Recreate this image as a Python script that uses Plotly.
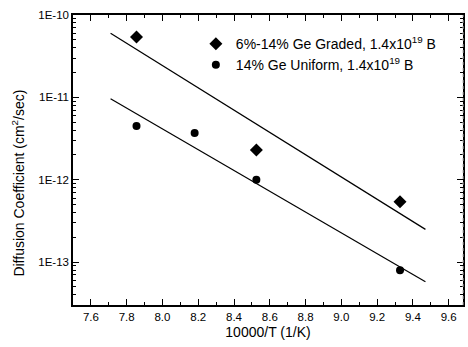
import numpy as np
import plotly.graph_objects as go

# Data
graded_x = [7.855, 8.525, 9.328]
graded_y = [5.4e-11, 2.3e-12, 5.4e-13]
uniform_x = [7.855, 8.18, 8.525, 9.328]
uniform_y = [4.5e-12, 3.7e-12, 1.0e-12, 8.0e-14]
fit_x = [7.71, 9.47]
graded_fit_y = [6.0e-11, 2.5e-13]
uniform_fit_y = [9.6e-12, 5.8e-14]

ytickvals = [1e-10, 1e-11, 1e-12, 1e-13]
yticktext = ["1E-10", "1E-11", "1E-12", "1E-13"]
xtickvals = [7.6, 7.8, 8.0, 8.2, 8.4, 8.6, 8.8, 9.0, 9.2, 9.4, 9.6]
xticktext = ["7.6", "7.8", "8.0", "8.2", "8.4", "8.6", "8.8", "9.0", "9.2", "9.4", "9.6"]

yminor = [m * 10.0 ** e for e in range(-14, -10) for m in range(2, 10)]
xminor = [round(7.5 + 0.2 * i, 2) for i in range(12)]

font = "Liberation Sans, Arial, sans-serif"

fig = go.Figure()
fig.add_trace(go.Scatter(x=fit_x, y=graded_fit_y, mode="lines",
                         line=dict(color="black", width=1.2), showlegend=False))
fig.add_trace(go.Scatter(x=fit_x, y=uniform_fit_y, mode="lines",
                         line=dict(color="black", width=1.2), showlegend=False))
fig.add_trace(go.Scatter(x=graded_x, y=graded_y, mode="markers",
                         marker=dict(symbol="diamond", size=10, color="black"),
                         name="6%-14% Ge Graded, 1.4x10<sup>19</sup> B"))
fig.add_trace(go.Scatter(x=uniform_x, y=uniform_y, mode="markers",
                         marker=dict(symbol="circle", size=8, color="black"),
                         name="14% Ge Uniform, 1.4x10<sup>19</sup> B"))

fig.update_layout(
    width=468, height=347,
    margin=dict(l=73, r=3, t=15, b=42),
    paper_bgcolor="white", plot_bgcolor="white",
    font=dict(family=font, size=11.5, color="black"),
    legend=dict(x=0.315, y=0.955, xanchor="left", yanchor="top",
                bgcolor="rgba(0,0,0,0)", font=dict(size=14),
                tracegroupgap=0, itemwidth=30),
    xaxis=dict(range=[7.5, 9.68], tickvals=xtickvals, ticktext=xticktext,
               ticks="inside", ticklen=6, tickcolor="black", tickwidth=1,
               showline=True, linecolor="black", linewidth=1.5, mirror="allticks",
               showgrid=False, zeroline=False,
               minor=dict(tickvals=xminor, ticks="inside", ticklen=3, tickcolor="black"),
               title=dict(text="10000/T (1/K)", font=dict(size=14), standoff=6),
               tickfont=dict(size=11.5)),
    yaxis=dict(type="log", range=[-13.52, -10], tickvals=ytickvals, ticktext=yticktext,
               ticks="inside", ticklen=6, tickcolor="black", tickwidth=1,
               showline=True, linecolor="black", linewidth=1.5, mirror="ticks",
               showgrid=False, zeroline=False,
               minor=dict(tickvals=yminor, ticks="inside", ticklen=3, tickcolor="black"),
               tickfont=dict(size=11.5)),
)
fig.add_annotation(text="Diffusion Coefficient (cm<sup>2</sup>/sec)", xref="paper", yref="paper",
                   x=-0.14, y=0.42, textangle=-90, showarrow=False,
                   xanchor="center", yanchor="middle", font=dict(size=14))
fig.add_shape(type="line", xref="paper", yref="paper", x0=1, x1=1, y0=0, y1=1,
              line=dict(color="#bbbbbb", width=1, dash="dot"))
fig.write_html("out.html")
